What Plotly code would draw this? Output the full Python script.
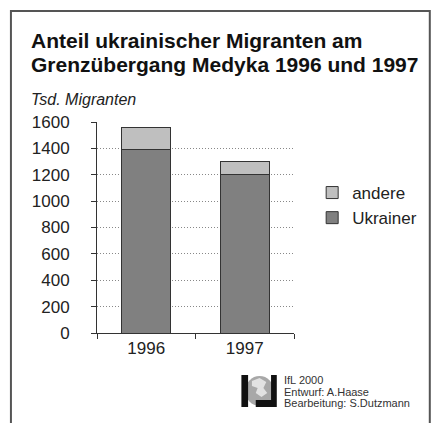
import plotly.graph_objects as go

years = ["1996", "1997"]
ukrainer = [1390, 1200]
andere = [170, 100]
y_ticks = [0, 200, 400, 600, 800, 1000, 1200, 1400, 1600]

W, H = 434, 423
L, R, T, B = 97, 131, 122, 90
PW, PH = W - L - R, H - T - B

def px(x):
    return (x - L) / PW

def py(y):
    return (H - B - y) / PH

FONT = "Liberation Sans, Arial, Helvetica, sans-serif"

fig = go.Figure()
fig.add_trace(go.Bar(x=years, y=ukrainer, name="Ukrainer", width=0.5,
                     marker=dict(color="#808080", line=dict(color="#333333", width=1))))
fig.add_trace(go.Bar(x=years, y=andere, name="andere", width=0.5,
                     marker=dict(color="#bfbfbf", line=dict(color="#333333", width=1))))

def pxpath(pts):
    return "M" + " L".join(f"{px(a)},{py(b)}" for a, b in pts) + " Z"

shapes = [
    # frame
    dict(type="rect", xref="paper", yref="paper", x0=px(7), x1=px(445), y0=py(11), y1=py(440),
         line=dict(color="#555555", width=2), layer="below"),
    # logo
    dict(type="circle", xref="paper", yref="paper", x0=px(252), x1=px(282), y0=py(376), y1=py(406),
         fillcolor="#a8a8a8", line=dict(width=0)),
    dict(type="path", xref="paper", yref="paper",
         path=pxpath([(259, 381), (267, 378), (274, 382), (271, 388), (275, 393), (269, 397),
                      (263, 393), (265, 388), (259, 386)]),
         fillcolor="#e2e2e2", line=dict(width=0)),
    dict(type="rect", xref="paper", yref="paper", x0=px(248), x1=px(255), y0=py(375), y1=py(407),
         fillcolor="#111111", line=dict(width=0)),
    dict(type="rect", xref="paper", yref="paper", x0=px(279), x1=px(285), y0=py(375), y1=py(400),
         fillcolor="#111111", line=dict(width=0)),
    dict(type="rect", xref="paper", yref="paper", x0=px(263), x1=px(285), y0=py(400), y1=py(407),
         fillcolor="#111111", line=dict(width=0)),
]

annotations = [
    dict(text="<b>Anteil ukrainischer Migranten am</b>", x=px(26), y=py(41), xref="paper", yref="paper",
         xanchor="left", yanchor="middle", showarrow=False, font=dict(family=FONT, size=21, color="#111111")),
    dict(text="<b>Grenzübergang Medyka 1996 und 1997</b>", x=px(26), y=py(64), xref="paper", yref="paper",
         xanchor="left", yanchor="middle", showarrow=False, font=dict(family=FONT, size=21, color="#111111")),
    dict(text="<i>Tsd. Migranten</i>", x=px(26), y=py(99), xref="paper", yref="paper",
         xanchor="left", yanchor="middle", showarrow=False, font=dict(family=FONT, size=16, color="#222222")),
    dict(text="IfL 2000", x=px(290), y=py(380), xref="paper", yref="paper",
         xanchor="left", yanchor="middle", showarrow=False, font=dict(family=FONT, size=11, color="#333333")),
    dict(text="Entwurf: A.Haase", x=px(290), y=py(391.7), xref="paper", yref="paper",
         xanchor="left", yanchor="middle", showarrow=False, font=dict(family=FONT, size=11, color="#333333")),
    dict(text="Bearbeitung: S.Dutzmann", x=px(290), y=py(403.4), xref="paper", yref="paper",
         xanchor="left", yanchor="middle", showarrow=False, font=dict(family=FONT, size=11, color="#333333")),
]

fig.update_layout(
    width=W, height=H,
    margin=dict(l=L, r=R, t=T, b=B, pad=0),
    barmode="stack",
    paper_bgcolor="white", plot_bgcolor="white",
    font=dict(family=FONT, size=17, color="#222222"),
    shapes=shapes, annotations=annotations,
    showlegend=True,
    legend=dict(x=px(322), y=py(175), xanchor="left", yanchor="top", traceorder="reversed",
                font=dict(family=FONT, size=17, color="#222222"), bgcolor="rgba(0,0,0,0)",
                tracegroupgap=0, itemwidth=30),
    xaxis=dict(type="category", showline=True, linecolor="#333333", linewidth=1,
               ticks="outside", tickson="boundaries", ticklen=5, tickcolor="#333333",
               showgrid=False, tickfont=dict(size=17)),
    yaxis=dict(range=[0, 1600], tickvals=y_ticks, showline=True, linecolor="#333333", linewidth=1,
               ticks="outside", ticklen=5, tickcolor="#333333",
               showgrid=True, gridcolor="#888888", griddash="1px,2px", gridwidth=1,
               zeroline=False, ticklabelstandoff=18, tickfont=dict(size=17)),
)

fig.write_html("out.html", config={"displayModeBar": False},
               post_script="document.body.style.margin='0';")
